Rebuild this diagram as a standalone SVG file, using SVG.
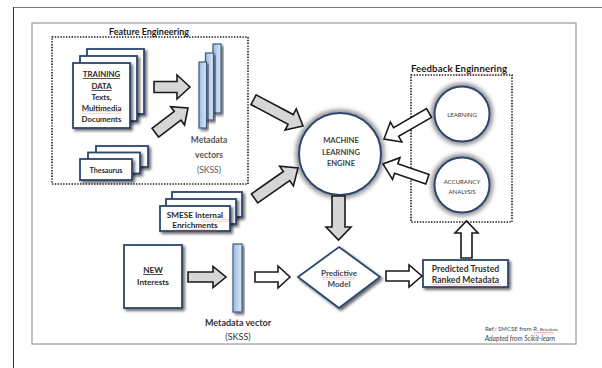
<svg xmlns="http://www.w3.org/2000/svg" width="602" height="368" viewBox="0 0 602 368">
  <defs>
    <style>
      .dotted { fill: none; stroke: #1a1a1a; stroke-width: 1.6; stroke-dasharray: 1.4 1.4; }
      .page { fill: #ffffff; stroke: #2c4770; stroke-width: 1.8; }
      .bar { fill: url(#barFill); stroke: #3b5a86; stroke-width: 1.2; }
      .ring { fill: #ffffff; stroke: #2c4770; stroke-width: 2; }
      .halo { fill: none; stroke: #8a8a8a; stroke-width: 5; }
      .garrow { fill: #d6d6d6; stroke: #1a1a1a; stroke-width: 1.6; stroke-linejoin: miter; }
      .warrow { fill: #ffffff; stroke: #1a1a1a; stroke-width: 1.6; stroke-linejoin: miter; }
      .t { font-family: Lato, "Open Sans", "Liberation Sans", sans-serif; text-anchor: middle; }
      .b { font-weight: bold; }
      .squig { fill: url(#squiggle); }
    </style>
    <linearGradient id="barFill" x1="0" y1="0" x2="1" y2="0">
      <stop offset="0" stop-color="#9dbbe0"/>
      <stop offset="1" stop-color="#dde8f6"/>
    </linearGradient>
    <filter id="shadow" x="-30%" y="-30%" width="160%" height="160%">
      <feGaussianBlur in="SourceAlpha" stdDeviation="1.6"/>
      <feOffset dx="1.5" dy="1.5" result="b"/>
      <feComponentTransfer><feFuncA type="linear" slope="0.6"/></feComponentTransfer>
      <feMerge><feMergeNode/><feMergeNode in="SourceGraphic"/></feMerge>
    </filter>
    <filter id="soft" x="-30%" y="-30%" width="160%" height="160%">
      <feGaussianBlur stdDeviation="2"/>
    </filter>
    <pattern id="squiggle" width="3" height="2.4" patternUnits="userSpaceOnUse">
      <path d="M0 1.8 L1.5 0.6 L3 1.8" fill="none" stroke="#e04848" stroke-width="0.6"/>
    </pattern>
  </defs>

  <!-- page frames -->
  <g id="frames">
    <line x1="13" y1="7.5" x2="602" y2="7.5" stroke="#7a7a7a" stroke-width="1"/>
    <line x1="13.5" y1="7" x2="13.5" y2="368" stroke="#333333" stroke-width="1"/>
    <rect x="32" y="23" width="544" height="321" fill="none" stroke="#9a9a9a" stroke-width="1.2"/>
  </g>

  <!-- Feature Engineering group -->
  <g id="feature-engineering">
    <rect class="dotted" x="52" y="37" width="196" height="147"/>
    <text class="t b" x="149" y="35" font-size="9" fill="#1a1a1a">Feature Engineering</text>
  </g>

  <g id="training-data">
    <rect class="page" x="87" y="49" width="57" height="65" filter="url(#shadow)"/>
    <rect class="page" x="80" y="56" width="57" height="65" filter="url(#shadow)"/>
    <rect class="page" x="73" y="63" width="57" height="65" filter="url(#shadow)"/>
    <g class="t b" font-size="7.8" fill="#2a2a2a">
      <text x="101.5" y="77" text-decoration="underline">TRAINING</text>
      <text x="101.5" y="89" text-decoration="underline">DATA</text>
      <text x="101.5" y="99.5">Texts,</text>
      <text x="101.5" y="110.5">Multimedia</text>
      <text x="101.5" y="121.5">Documents</text>
    </g>
    <rect class="squig" x="82" y="111.5" width="39" height="2.4"/>
  </g>

  <g id="thesaurus">
    <rect class="page" x="96" y="146" width="52" height="21" filter="url(#shadow)"/>
    <rect class="page" x="88" y="152.5" width="52" height="21" filter="url(#shadow)"/>
    <rect class="page" x="80" y="159" width="52" height="21" filter="url(#shadow)"/>
    <text class="t b" x="106" y="172.5" font-size="7.2" fill="#2a2a2a">Thesaurus</text>
  </g>

  <g id="metadata-vectors">
    <rect class="bar" x="213" y="44" width="8" height="69" filter="url(#shadow)"/>
    <rect class="bar" x="205.5" y="53" width="8" height="67" filter="url(#shadow)"/>
    <rect class="bar" x="199" y="62" width="7.5" height="66" filter="url(#shadow)"/>
    <g class="t" font-size="8.5" fill="#555555">
      <text class="b" x="209" y="143">Metadata</text>
      <text class="b" x="209" y="158">vectors</text>
      <text x="209" y="173">(SKSS)</text>
    </g>
  </g>

  <g id="smese-enrichments">
    <rect class="page" x="172" y="192" width="70" height="25" filter="url(#shadow)"/>
    <rect class="page" x="166" y="199" width="70" height="25" filter="url(#shadow)"/>
    <rect class="page" x="160" y="206" width="70" height="25" filter="url(#shadow)"/>
    <g class="t b" font-size="8.2" fill="#2a2a2a">
      <text x="195" y="218">SMESE Internal</text>
      <text x="195" y="228">Enrichments</text>
    </g>
    <rect class="squig" x="201" y="219.5" width="28" height="2.4"/>
    <rect class="squig" x="174" y="229.3" width="42" height="2.4"/>
  </g>

  <g id="ml-engine">
    <circle class="halo" cx="340" cy="154" r="42" filter="url(#soft)"/>
    <circle class="ring" cx="340" cy="154" r="41"/>
    <g class="t b" font-size="7.6" fill="#444444">
      <text x="341" y="143">MACHINE</text>
      <text x="341" y="155">LEARNING</text>
      <text x="341" y="166">ENGINE</text>
    </g>
  </g>

  <!-- Feedback Engineering group -->
  <g id="feedback-engineering">
    <rect class="dotted" x="411" y="75" width="101" height="147"/>
    <text x="411" y="72" font-family="Lato, 'Open Sans', 'Liberation Sans', sans-serif" font-size="9.6" font-weight="bold" fill="#1a1a1a" textLength="96">Feedback Enginnering</text>
    <rect class="squig" x="455" y="73.5" width="52" height="2.4"/>
  </g>

  <g id="learning">
    <circle class="halo" cx="462" cy="114" r="28.5" filter="url(#soft)"/>
    <circle class="ring" cx="462" cy="114" r="27.5"/>
    <text class="t" x="462" y="117" font-size="6" fill="#333333">LEARNING</text>
  </g>

  <g id="accuracy-analysis">
    <circle class="halo" cx="462" cy="185" r="28.5" filter="url(#soft)"/>
    <circle class="ring" cx="462" cy="185" r="27.5"/>
    <g class="t" font-size="6" fill="#333333">
      <text x="462" y="184">ACCURANCY</text>
      <text x="462" y="194">ANALYSIS</text>
    </g>
  </g>

  <g id="new-interests">
    <rect class="page" x="124" y="245" width="58" height="63" filter="url(#shadow)"/>
    <g class="t b" font-size="8.2" fill="#2a2a2a">
      <text x="153" y="273" text-decoration="underline">NEW</text>
      <text x="153" y="285">Interests</text>
    </g>
  </g>

  <g id="metadata-vector">
    <rect class="bar" x="233" y="244" width="9" height="68" filter="url(#shadow)"/>
    <g class="t" font-size="9" fill="#333333">
      <text class="b" x="238" y="326">Metadata vector</text>
      <text x="238" y="339.5">(SKSS)</text>
    </g>
  </g>

  <g id="predictive-model">
    <polygon class="page" points="339,247 380,277 339,308 298,277" filter="url(#shadow)"/>
    <g class="t b" font-size="8" fill="#3a4257">
      <text x="339" y="276">Predictive</text>
      <text x="339" y="287">Model</text>
    </g>
    <rect class="squig" x="322" y="277" width="33" height="2.4"/>
  </g>

  <g id="predicted-metadata">
    <rect class="page" x="423" y="260" width="85" height="27" filter="url(#shadow)"/>
    <g class="t b" font-size="8.6" fill="#333333">
      <text x="465.5" y="272">Predicted Trusted</text>
      <text x="465.5" y="283">Ranked Metadata</text>
    </g>
    <rect class="squig" x="431" y="284.3" width="70" height="2.4"/>
  </g>

  <g id="reference-note" font-family="Lato, 'Open Sans', 'Liberation Sans', sans-serif" fill="#444444">
    <text x="485" y="331" font-size="6">Ref.: SMCSE from R. <tspan font-size="4.5">Brisebois</tspan></text>
    <text x="485" y="341" font-size="6.6" font-style="italic">Adapted from Scikit-learn</text>
    <rect class="squig" x="534" y="332" width="20" height="2.4"/>
  </g>

  <!-- connectors: block arrows drawn with the tip at the local origin, pointing along +x -->
  <g id="connectors">
    <!-- training data to metadata vectors -->
    <polygon class="garrow" points="154,81.5 177,81.5 177,75 190,87 177,99 177,92.5 154,92.5"/>
    <!-- thesaurus to metadata vectors -->
    <polygon class="garrow" transform="translate(188,108) rotate(-37)" points="-41,-5.5 -13,-5.5 -13,-11.5 0,0 -13,11.5 -13,5.5 -41,5.5"/>
    <!-- metadata vectors to engine -->
    <polygon class="garrow" transform="translate(303,126) rotate(28)" points="-56,-5.5 -14,-5.5 -14,-12 0,0 -14,12 -14,5.5 -56,5.5"/>
    <!-- enrichments to engine -->
    <polygon class="garrow" transform="translate(298,168) rotate(-35)" points="-53,-5.5 -14,-5.5 -14,-12 0,0 -14,12 -14,5.5 -53,5.5"/>
    <!-- learning to engine -->
    <polygon class="warrow" transform="translate(384,139) rotate(150)" points="-52,-5 -14,-5 -14,-11.5 0,0 -14,11.5 -14,5 -52,5"/>
    <!-- accuracy analysis to engine -->
    <polygon class="warrow" transform="translate(383,164) rotate(199)" points="-47,-5 -14,-5 -14,-11.5 0,0 -14,11.5 -14,5 -47,5"/>
    <!-- engine to predictive model -->
    <polygon class="garrow" points="332,196 345,196 345,227 351,227 338.5,240 326,227 332,227"/>
    <!-- new interests to metadata vector -->
    <polygon class="garrow" points="188,272 213,272 213,266.5 226,277 213,287.5 213,282 188,282"/>
    <!-- metadata vector to predictive model -->
    <polygon class="warrow" points="255,272 278,272 278,266 290,277 278,288 278,282 255,282"/>
    <!-- predictive model to predicted metadata -->
    <polygon class="warrow" points="386,271 409,271 409,265 422,276 409,287 409,281 386,281"/>
    <!-- predicted metadata to accuracy analysis -->
    <polygon class="warrow" points="461,258 461,233 455,233 466.5,221 478,233 472,233 472,258"/>
  </g>
</svg>
